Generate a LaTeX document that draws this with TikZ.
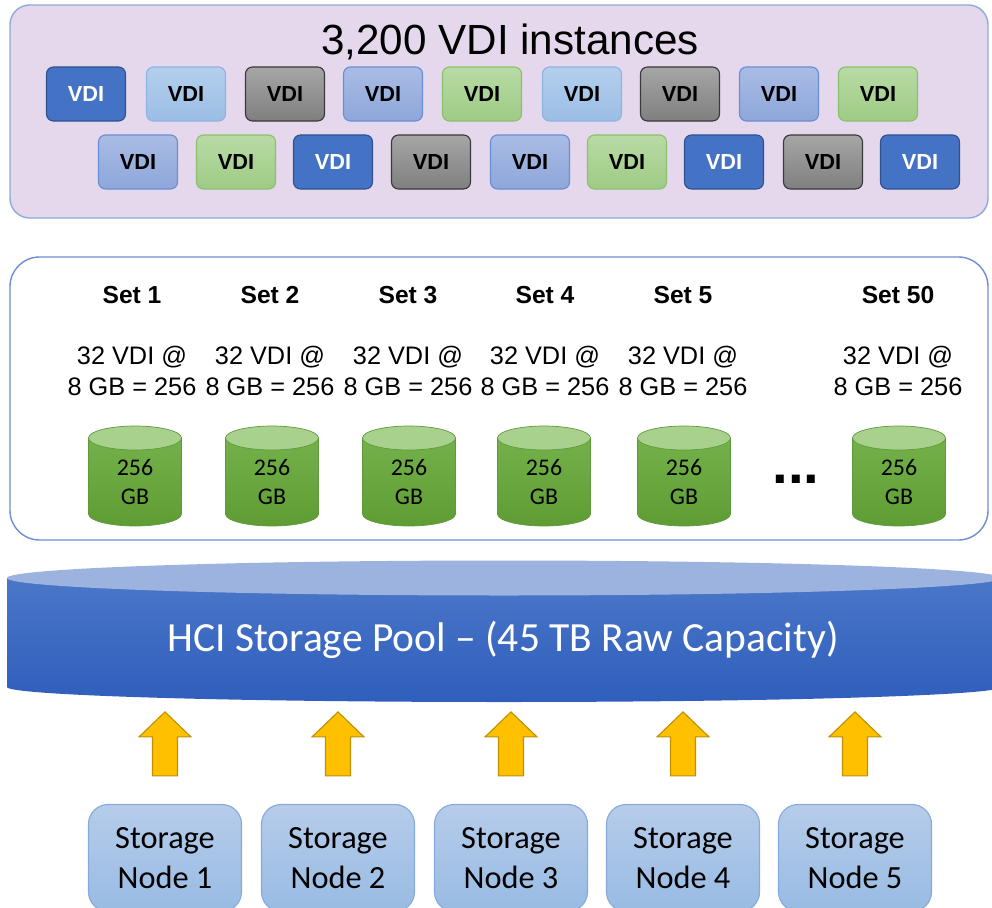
\documentclass[tikz,border=0pt]{standalone}
\usepackage{fontspec}
\setmainfont{Liberation Sans}
\newfontfamily\calibri{Carlito}
\usetikzlibrary{positioning, calc}
\definecolor{panelFill}{HTML}{E5D8EC}
\definecolor{panelLine}{HTML}{8EAADB}
\definecolor{setLine}{HTML}{6F8ED3}
\definecolor{vdiDark}{HTML}{4472C4}
\definecolor{vdiDarkLine}{HTML}{2F528F}
\definecolor{vdiLightTop}{HTML}{B3CFEC}
\definecolor{vdiLightBot}{HTML}{9BBDE5}
\definecolor{vdiLightLine}{HTML}{8EB4E3}
\definecolor{vdiGrayTop}{HTML}{A6A6A6}
\definecolor{vdiGrayBot}{HTML}{7F7F7F}
\definecolor{vdiGrayLine}{HTML}{3A3A3A}
\definecolor{vdiPeriTop}{HTML}{A9BCE4}
\definecolor{vdiPeriBot}{HTML}{8EA6DA}
\definecolor{vdiPeriLine}{HTML}{6A8ED5}
\definecolor{vdiGreenTop}{HTML}{B8DBA5}
\definecolor{vdiGreenBot}{HTML}{9FCB85}
\definecolor{vdiGreenLine}{HTML}{8DC06E}
\definecolor{diskTop}{HTML}{A9D18E}
\definecolor{diskBodyTop}{HTML}{74B14A}
\definecolor{diskBodyBot}{HTML}{5E9C34}
\definecolor{diskLine}{HTML}{5F9A3A}
\definecolor{poolTop}{HTML}{9CB3DF}
\definecolor{poolBodyTop}{HTML}{4A77C8}
\definecolor{poolBodyBot}{HTML}{2F5EBC}
\definecolor{arrowFill}{HTML}{FFC000}
\definecolor{arrowLine}{HTML}{BF9000}
\definecolor{nodeTop}{HTML}{B6CCEA}
\definecolor{nodeBot}{HTML}{98BBE3}
\definecolor{nodeLine}{HTML}{86AADC}
\tikzset{
    vdi/.style = {draw, rounded corners=5pt, line width=0.8pt, minimum width=1.975cm, minimum height=1.35cm,
        font=\fontsize{15.5pt}{18pt}\selectfont\bfseries},
    vdidark/.style = {vdi, fill=vdiDark, draw=vdiDarkLine, text=white},
    vdilight/.style = {vdi, top color=vdiLightTop, bottom color=vdiLightBot, draw=vdiLightLine},
    vdigray/.style = {vdi, top color=vdiGrayTop, bottom color=vdiGrayBot, draw=vdiGrayLine},
    vdiperi/.style = {vdi, top color=vdiPeriTop, bottom color=vdiPeriBot, draw=vdiPeriLine},
    vdigreen/.style = {vdi, top color=vdiGreenTop, bottom color=vdiGreenBot, draw=vdiGreenLine},
}
\tikzset{
    setname/.style = {font=\fontsize{17.5pt}{21pt}\selectfont\bfseries},
    setsize/.style = {align=center, font=\fontsize{18pt}{22pt}\selectfont},
    disktext/.style = {align=center, font=\calibri\fontsize{17pt}{21pt}\selectfont},
    storage/.style = {draw=nodeLine, line width=0.8pt, rounded corners=14pt, top color=nodeTop, bottom color=nodeBot,
        minimum width=3.825cm, minimum height=2.675cm, align=center, font=\calibri\fontsize{23pt}{28.4pt}\selectfont},
    disk/.pic = {
        \path[draw=diskLine, line width=0.5pt, top color=diskBodyTop, bottom color=diskBodyBot]
            (-46.5,0) -- (-46.5,76) arc[start angle=180, end angle=0, x radius=46.5, y radius=12] -- (46.5,0) -- cycle;
        \draw[diskLine, line width=0.5pt, fill=diskTop] (0,0) ellipse[x radius=46.5, y radius=12];
    },
    uparrow/.pic = {
        \draw[draw=arrowLine, fill=arrowFill, line width=0.8pt]
            (-12.5,32) -- (-12.5,-7) -- (-26,-7) -- (0,-32) -- (26,-7) -- (12.5,-7) -- (12.5,32) -- cycle;
    },
}

\begin{document}
\begin{tikzpicture}[x=0.025cm, y=-0.025cm]
    \useasboundingbox (0,0) rectangle (992,907);
    \clip (0,0) rectangle (992,907);

    \draw[panelLine, line width=1pt, fill=panelFill, rounded corners=14pt] (10,5) rectangle (988,218);
    \node (title) at (510,42) {\fontsize{30pt}{36pt}\selectfont 3,200 VDI instances};

    \node[vdidark] (a1) at (86,94) {VDI};
    \node[vdilight] (a2) at (186,94) {VDI};
    \node[vdigray] (a3) at (285,94) {VDI};
    \node[vdiperi] (a4) at (383,94) {VDI};
    \node[vdigreen] (a5) at (482,94) {VDI};
    \node[vdilight] (a6) at (582,94) {VDI};
    \node[vdigray] (a7) at (680,94) {VDI};
    \node[vdiperi] (a8) at (779,94) {VDI};
    \node[vdigreen] (a9) at (878,94) {VDI};

    \node[vdiperi] (b1) at (138,162) {VDI};
    \node[vdigreen] (b2) at (236,162) {VDI};
    \node[vdidark] (b3) at (333,162) {VDI};
    \node[vdigray] (b4) at (431,162) {VDI};
    \node[vdiperi] (b5) at (530,162) {VDI};
    \node[vdigreen] (b6) at (627,162) {VDI};
    \node[vdidark] (b7) at (724,162) {VDI};
    \node[vdigray] (b8) at (823,162) {VDI};
    \node[vdidark] (b9) at (920,162) {VDI};

    \draw[setLine, line width=1pt, fill=white, rounded corners=21pt] (10,257) rectangle (988,540);

    \node[setname] (set1) at (132,295) {Set 1};
    \node[setname] (set2) at (270,295) {Set 2};
    \node[setname] (set3) at (408,295) {Set 3};
    \node[setname] (set4) at (545,295) {Set 4};
    \node[setname] (set5) at (683,295) {Set 5};
    \node[setname] (set50) at (898,295) {Set 50};

    \node[setsize] (size1) at (132,371) {32 VDI @\\8 GB = 256};
    \node[setsize] (size2) at (270,371) {32 VDI @\\8 GB = 256};
    \node[setsize] (size3) at (408,371) {32 VDI @\\8 GB = 256};
    \node[setsize] (size4) at (545,371) {32 VDI @\\8 GB = 256};
    \node[setsize] (size5) at (683,371) {32 VDI @\\8 GB = 256};
    \node[setsize] (size50) at (898,371) {32 VDI @\\8 GB = 256};

    \pic at (135,438) {disk};
    \pic at (272,438) {disk};
    \pic at (409,438) {disk};
    \pic at (544,438) {disk};
    \pic at (684,438) {disk};
    \pic at (899,438) {disk};
    \node[disktext] (d1) at (135,482) {256\\GB};
    \node[disktext] (d2) at (272,482) {256\\GB};
    \node[disktext] (d3) at (409,482) {256\\GB};
    \node[disktext] (d4) at (544,482) {256\\GB};
    \node[disktext] (d5) at (684,482) {256\\GB};
    \node[disktext] (d50) at (899,482) {256\\GB};
    \node[anchor=base] (dots) at (796,483) {\fontsize{40pt}{40pt}\selectfont\bfseries ...};

    \path[top color=poolBodyTop, bottom color=poolBodyBot]
        (7,578) -- (7,687) arc[start angle=180, end angle=0, x radius=497, y radius=15] -- (1001,578) -- cycle;
    \fill[poolTop] (504,578) ellipse[x radius=497, y radius=17.5];
    \node[text=white] (pool) at (503,640) {\calibri\fontsize{29.5pt}{34pt}\selectfont HCI Storage Pool – (45 TB Raw Capacity)};

    \node[storage] (sn1) at (165,858) {Storage\\Node 1};
    \node[storage] (sn2) at (338,858) {Storage\\Node 2};
    \node[storage] (sn3) at (511,858) {Storage\\Node 3};
    \node[storage] (sn4) at (683,858) {Storage\\Node 4};
    \node[storage] (sn5) at (855,858) {Storage\\Node 5};

    \pic at ($(sn1.north)+(0,-60)$) {uparrow};
    \pic at ($(sn2.north)+(0,-60)$) {uparrow};
    \pic at ($(sn3.north)+(0,-60)$) {uparrow};
    \pic at ($(sn4.north)+(0,-60)$) {uparrow};
    \pic at ($(sn5.north)+(0,-60)$) {uparrow};
\end{tikzpicture}
\end{document}
